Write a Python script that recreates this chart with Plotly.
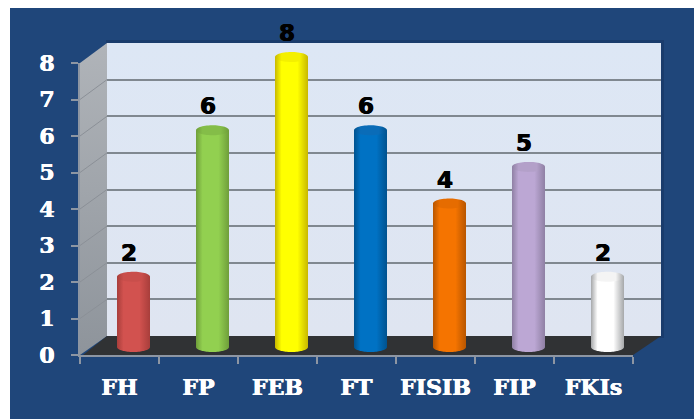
import numpy as np
import plotly.graph_objects as go

# Chart data
categories = ["FH", "FP", "FEB", "FT", "FISIB", "FIP", "FKIs"]
values = [2, 6, 8, 6, 4, 5, 2]
value_ticks = [0, 1, 2, 3, 4, 5, 6, 7, 8]

# Cylinder shading: edge, centre, cap
edge_colors = ["#a83e3b", "#6f9e3a", "#c8b800", "#00528f", "#b85600", "#8f80a4", "#a6a8aa"]
mid_colors = ["#d2524f", "#92d050", "#ffff00", "#0072c4", "#f57400", "#bca7d4", "#ffffff"]
cap_colors = ["#c94e4b", "#84bd48", "#f4f000", "#0a6cb8", "#e66c00", "#b3a0c9", "#f4f4f4"]

W, H = 694, 419
NAVY = "#1f467a"
AXIS_GREY = "#8d96a3"
GRID_GREY = "#808890"

# Pixel layout of the 3D box
FRONT_L, FRONT_R, FRONT_0, FRONT_8 = 80, 633, 355, 63
BACK_L, BACK_R, BACK_0, BACK_8 = 107, 661, 336, 43
BAR_L, BAR_R, BAR_0 = 94, 647, 350
UNIT = (BAR_0 - 57) / 8


def xdom(a, b):
    return [a / W, b / W]


def ydom(bottom, top):
    return [1 - bottom / H, 1 - top / H]


fig = go.Figure()


def poly(xs, ys, color=None, gradient=None, xa="x", ya="y"):
    kw = {"fillgradient": gradient} if gradient else {"fillcolor": color}
    fig.add_trace(go.Scatter(x=xs, y=ys, xaxis=xa, yaxis=ya, mode="none", fill="toself",
                             hoverinfo="skip", showlegend=False, **kw))


# Panel and walls on a full-size backdrop subplot
poly([10, 694, 694, 10], [8, 8, 419, 419], NAVY)
poly([BACK_L - 1, BACK_R + 3, BACK_R + 3, BACK_L - 1], [40, 40, BACK_0 + 2, BACK_0 + 2], "#1a3c6c")
poly([BACK_L, BACK_R, BACK_R, BACK_L], [BACK_8, BACK_8, BACK_0, BACK_0],
     gradient=dict(type="vertical",
                   colorscale=[[0, "#dfe5f1"], [1, "#dde7f5"]]))
poly([FRONT_L, BACK_L, BACK_L, FRONT_L], [FRONT_8, BACK_8, BACK_0, FRONT_0],
     gradient=dict(type="vertical",
                   colorscale=[[0, "#8e949b"], [1, "#b0b4b9"]]))
poly([FRONT_L + 3, BACK_L, BACK_R, FRONT_R], [FRONT_0, BACK_0, BACK_0, FRONT_0], "#303234")

# Depth lines on the side wall
for t in value_ticks[1:-1]:
    fig.add_trace(go.Scatter(
        x=[FRONT_L, BACK_L],
        y=[FRONT_0 - t * (FRONT_0 - FRONT_8) / 8, BACK_0 - t * (BACK_0 - BACK_8) / 8],
        mode="lines", line=dict(color="#8b9097", width=1), hoverinfo="skip", showlegend=False))

# Back wall grid
fig.add_trace(go.Scatter(x=[0, 1], y=[0, 8], xaxis="x2", yaxis="y2", mode="none",
                         hoverinfo="skip", showlegend=False))

# Front axes carrying the tick labels
fig.add_trace(go.Scatter(x=categories, y=values, xaxis="x3", yaxis="y3", mode="none",
                         hoverinfo="skip", showlegend=False))

# Cylinders
half_w = 16.5 / ((BAR_R - BAR_L) / 7)
cap_h = 5 / UNIT
foot_c = 3 / UNIT
foot_h = 5 / UNIT
theta = np.linspace(0, np.pi, 40)
for i, v in enumerate(values):
    xs_top = i - half_w * np.cos(theta)
    ys_top = np.full_like(theta, v, dtype=float)
    xs_foot = i + half_w * np.cos(theta)
    ys_foot = foot_c - foot_h * np.sin(theta)
    poly(np.r_[xs_top, xs_foot].tolist(), np.r_[ys_top, ys_foot].tolist(),
         gradient=dict(type="horizontal",
                       colorscale=[[0, edge_colors[i]], [0.2, mid_colors[i]],
                                   [0.68, mid_colors[i]], [1, edge_colors[i]]]),
         xa="x4", ya="y4")
    a = np.linspace(0, 2 * np.pi, 60)
    poly((i + half_w * np.cos(a)).tolist(), (v + cap_h * np.sin(a)).tolist(),
         gradient=dict(type="horizontal",
                       colorscale=[[0, edge_colors[i]], [0.2, cap_colors[i]],
                                   [0.75, cap_colors[i]], [1, edge_colors[i]]]),
         xa="x4", ya="y4")

axis_font = dict(family="DejaVu Serif", size=22, color="white", weight="bold",
                 shadow="0.4px 0 0 white, -0.4px 0 0 white")
hidden = dict(visible=False, fixedrange=True)

fig.update_layout(
    template="none",
    width=W, height=H, autosize=False,
    margin=dict(l=0, r=0, t=0, b=0, pad=0),
    paper_bgcolor="white", plot_bgcolor="rgba(0,0,0,0)",
    showlegend=False,
    xaxis=dict(domain=[0, 1], range=[0, W], **hidden),
    yaxis=dict(domain=[0, 1], range=[H, 0], **hidden),
    xaxis2=dict(domain=xdom(BACK_L, BACK_R), range=[0, 1], anchor="y2", **hidden),
    yaxis2=dict(domain=ydom(BACK_0, BACK_8), range=[0, 8], anchor="x2", fixedrange=True,
                tickvals=value_ticks[:-1], showgrid=True, gridcolor=GRID_GREY, gridwidth=2,
                showticklabels=False, ticks="", zeroline=False, showline=False),
    xaxis3=dict(domain=xdom(FRONT_L, FRONT_R), anchor="y3", type="category",
                categoryorder="array", categoryarray=categories, tickson="boundaries",
                range=[-0.5, 6.5], ticks="outside", ticklen=7, tickwidth=2,
                tickcolor=AXIS_GREY, showline=True, linecolor=AXIS_GREY, linewidth=2,
                showgrid=False, tickfont=axis_font, tickangle=0, ticklabelstandoff=12,
                fixedrange=True),
    yaxis3=dict(domain=ydom(FRONT_0, FRONT_8), anchor="x3", range=[0, 8], tickvals=value_ticks,
                ticks="outside", ticklen=7, tickwidth=2, tickcolor=AXIS_GREY,
                showline=True, linecolor=AXIS_GREY, linewidth=2, showgrid=False,
                zeroline=False, tickfont=axis_font, ticklabelstandoff=12, fixedrange=True),
    xaxis4=dict(domain=xdom(BAR_L, BAR_R), range=[-0.5, 6.5], anchor="y4", **hidden),
    yaxis4=dict(domain=ydom(BAR_0 + UNIT, BAR_0 - 9 * UNIT), range=[-1, 9], anchor="x4", **hidden),
    annotations=[
        dict(x=i, y=v, xref="x4", yref="y4", text=str(v), showarrow=False,
             xshift=-5, yshift=24,
             font=dict(family="DejaVu Sans", size=23, color="black", weight="bold",
                       shadow="0.5px 0 0 black, -0.5px 0 0 black"))
        for i, v in enumerate(values)
    ],
)

fig.write_html("out.html")
